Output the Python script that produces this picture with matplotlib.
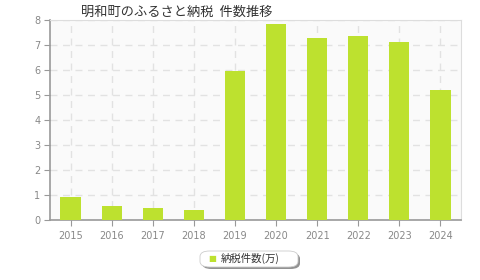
import matplotlib
matplotlib.use("Agg")
import matplotlib.pyplot as plt
from matplotlib.patches import FancyBboxPatch

years = ["2015", "2016", "2017", "2018", "2019", "2020", "2021", "2022", "2023", "2024"]
counts = [0.93, 0.56, 0.48, 0.40, 5.96, 7.84, 7.28, 7.36, 7.12, 5.20]
yticks = [0, 1, 2, 3, 4, 5, 6, 7, 8]
title = "明和町のふるさと納税  件数推移"
legend_label = "納税件数(万)"

plt.rcParams['font.family'] = ['Noto Sans CJK JP', 'DejaVu Sans']

W, H = 480, 280
fig = plt.figure(figsize=(W/100, H/100), dpi=100)
L, R, T, B = 50, 461, 20, 220
ax = fig.add_axes([L/W, 1 - B/H, (R-L)/W, (B-T)/H])
ax.set_facecolor('#fafafa')

x = list(range(len(years)))
ax.bar(x, counts, width=0.49, color='#bde12f', zorder=3)
ax.set_xlim(-0.5, len(years) - 0.5)
ax.set_ylim(0, 8)
ax.set_xticks(x)
ax.set_xticklabels(years, family=['DejaVu Sans'])
ax.set_yticks(yticks)
ax.set_yticklabels([str(v) for v in yticks], family=['DejaVu Sans'])
ax.grid(True, color='#e2e2e2', linestyle=(0, (5, 4)), linewidth=1, zorder=0)
for s in ['top', 'right']:
    ax.spines[s].set_color('#dddddd')
for s in ['left', 'bottom']:
    ax.spines[s].set_color('#999999')
    ax.spines[s].set_linewidth(1.2)
ax.tick_params(axis='both', colors='#999999', labelcolor='#888888', labelsize=7, length=4)
ax.tick_params(axis='x', pad=4)
ax.tick_params(axis='y', pad=3)

fig.text(81/W, 1 - 12/H, title, fontsize=9.5, color='#333333', ha='left', va='center')

# legend box
bx, by, bw, bh = 200/W, 1 - 267/H, 98/W, 16/H
shadow = FancyBboxPatch((bx + 2/W, by - 2/H), bw, bh, boxstyle="round,pad=0,rounding_size=0.02",
                        transform=fig.transFigure, facecolor='#777777', edgecolor='none', alpha=0.8)
box = FancyBboxPatch((bx, by), bw, bh, boxstyle="round,pad=0,rounding_size=0.02",
                     transform=fig.transFigure, facecolor='white', edgecolor='#cccccc', linewidth=0.6)
fig.patches.extend([shadow, box])
fig.text(212/W, 1 - 258/H, "■", fontsize=6, color='#bde12f', ha='center', va='center', family=['DejaVu Sans'])
fig.text(221/W, 1 - 258/H, legend_label, fontsize=7.5, color='#333333', ha='left', va='center')

fig.savefig("out.png", dpi=100)
